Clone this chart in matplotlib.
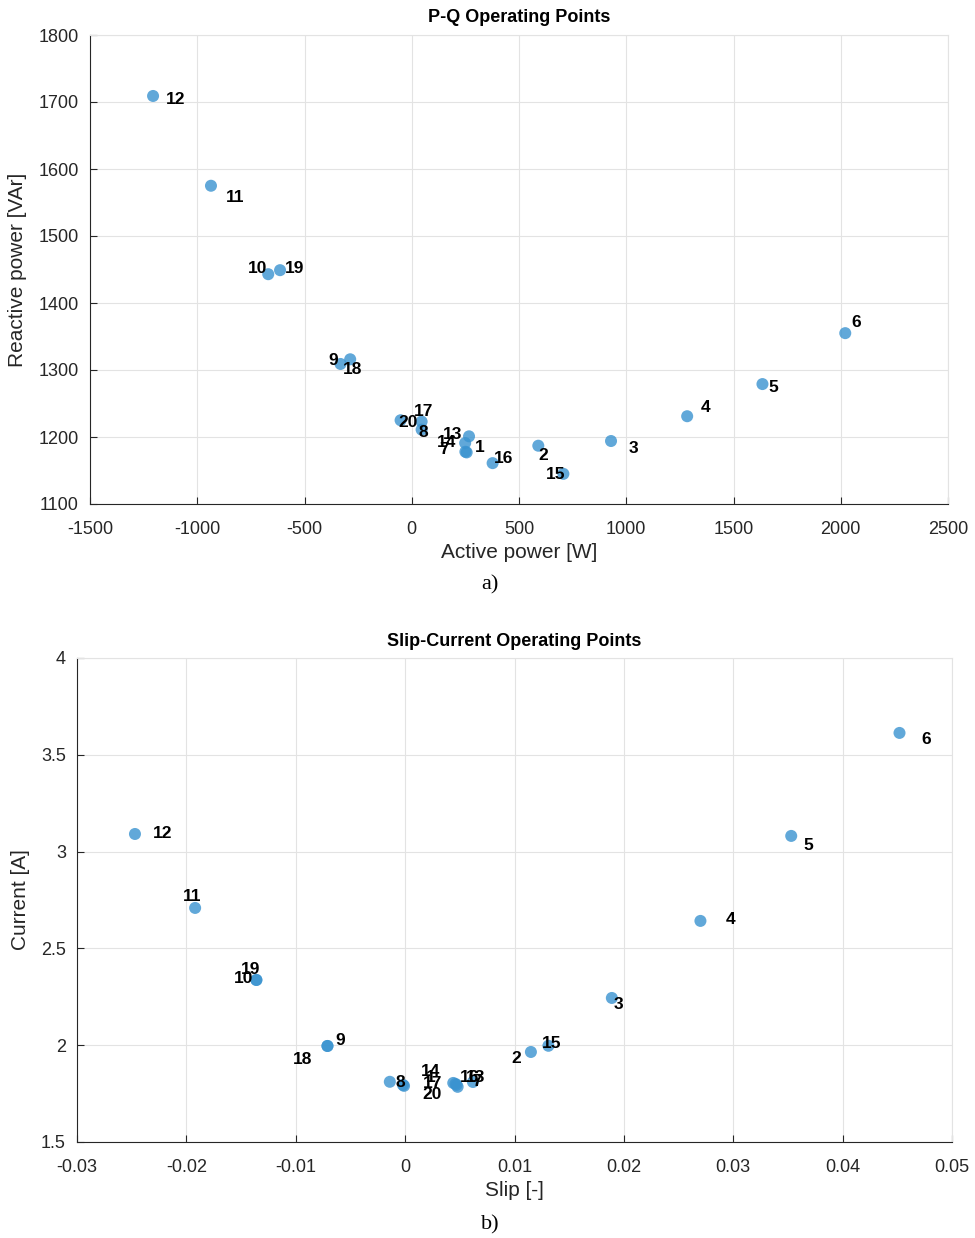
import matplotlib
matplotlib.use("Agg")
import matplotlib.pyplot as plt

plt.rcParams['font.family'] = ['Liberation Sans', 'DejaVu Sans']
plt.rcParams['axes.unicode_minus'] = False

ids = list(range(1, 21))
# Top: active power [W], reactive power [VAr]
P = [256, 590, 929, 1284, 1635, 2021, 250, 46, -332, -669,
     -936, -1206, 267, 249, 707, 377, 46, -287, -614, -52]
Q = [1177, 1187, 1194, 1231, 1279, 1355, 1178, 1211, 1309, 1443,
     1575, 1709, 1201, 1191, 1145, 1161, 1223, 1316, 1449, 1225]
# Bottom: slip [-], current [A]
S = [0.0048, 0.0115, 0.0189, 0.0270, 0.0353, 0.0452, 0.0046, -0.0002, -0.0071, -0.0136,
     -0.0192, -0.0247, 0.0047, 0.0044, 0.0131, 0.0062, -0.0001, -0.0071, -0.0136, -0.0014]
I = [1.785, 1.965, 2.244, 2.642, 3.081, 3.613, 1.800, 1.795, 1.996, 2.337,
     2.709, 3.091, 1.795, 1.805, 1.997, 1.810, 1.790, 1.996, 2.337, 1.811]

# label offsets in pixels (dx, dy)
off_top = {1: (13, 5), 2: (5, -10), 3: (22, -7), 4: (18, 9), 5: (11, -3), 6: (11, 11),
           7: (-21, 2), 8: (2, -3), 9: (-7, 3), 10: (-11, 6), 11: (24, -12), 12: (23, -4),
           13: (-16, 2), 14: (-19, 1), 15: (-8, -1), 16: (11, 5), 17: (2, 10), 18: (2, -10),
           19: (15, 2), 20: (7, -2)}
off_bot = {1: (-27, 9), 2: (-15, -7), 3: (7, -7), 4: (30, 1), 5: (17, -10), 6: (27, -7),
           7: (22, 2), 8: (-3, 2), 9: (13, 5), 10: (-13, 1), 11: (-3, 11), 12: (28, 0),
           13: (19, 7), 14: (-23, 11), 15: (3, 2), 16: (-3, 4), 17: (29, 2), 18: (-25, -14),
           19: (-6, 10), 20: (42, -13)}

fig = plt.figure(figsize=(9.75, 12.38), dpi=100)
ax1 = fig.add_axes([90/975, 1-504/1238, 858/975, 469/1238])
ax2 = fig.add_axes([77/975, 1-1142/1238, 875/975, 484/1238])

dot_color = '#3A93D0'

def style(ax):
    ax.grid(True, color='#e3e3e3', linewidth=0.8)
    ax.set_axisbelow(True)
    for s in ['top', 'right']:
        ax.spines[s].set_color('#e3e3e3')
    for s in ['left', 'bottom']:
        ax.spines[s].set_color('#262626')
    ax.tick_params(direction='in', length=5, labelsize=13, colors='#262626',
                   labelcolor='#262626')
    ax.tick_params(axis='x', pad=12)
    ax.tick_params(axis='y', pad=8)

def draw(ax, x, y, offs):
    ax.scatter(x, y, s=75, color=dot_color, alpha=0.8, edgecolors='none', zorder=3)
    for k, xi, yi in zip(ids, x, y):
        dx, dy = offs[k]
        ax.annotate(str(k), (xi, yi), xytext=(dx, dy), textcoords='offset pixels',
                    ha='center', va='center', fontsize=12.5, fontweight='bold',
                    color='black', zorder=4)

draw(ax1, P, Q, off_top)
style(ax1)
ax1.set_xlim(-1500, 2500)
ax1.set_ylim(1100, 1800)
ax1.set_xticks(range(-1500, 2501, 500))
ax1.set_yticks(range(1100, 1801, 100))
ax1.set_xlabel('Active power [W]', fontsize=15, color='#262626', labelpad=4)
ax1.set_ylabel('Reactive power [VAr]', fontsize=15, color='#262626', labelpad=8)
ax1.set_title('P-Q Operating Points', fontsize=13, fontweight='bold', pad=9)

draw(ax2, S, I, off_bot)
style(ax2)
ax2.set_xlim(-0.03, 0.05)
ax2.set_ylim(1.5, 4)
ax2.set_xticks([-0.03, -0.02, -0.01, 0, 0.01, 0.02, 0.03, 0.04, 0.05])
ax2.set_xticklabels(['-0.03', '-0.02', '-0.01', '0', '0.01', '0.02', '0.03', '0.04', '0.05'])
ax2.set_yticks([1.5, 2, 2.5, 3, 3.5, 4])
ax2.set_yticklabels(['1.5', '2', '2.5', '3', '3.5', '4'])
ax2.set_xlabel('Slip [-]', fontsize=15, color='#262626', labelpad=4)
ax2.set_ylabel('Current [A]', fontsize=15, color='#262626', labelpad=8)
ax2.set_title('Slip-Current Operating Points', fontsize=13, fontweight='bold', pad=9)

fig.text(490/975, 1-585/1238, 'a)', ha='center', va='center', fontsize=16,
         family=['Liberation Serif', 'DejaVu Serif'])
fig.text(490/975, 1-1225/1238, 'b)', ha='center', va='center', fontsize=16,
         family=['Liberation Serif', 'DejaVu Serif'])

fig.savefig('out.png', dpi=100)
